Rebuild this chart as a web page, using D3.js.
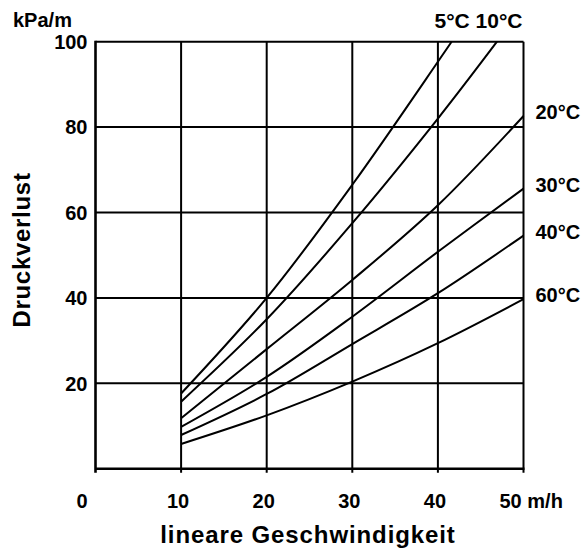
<!DOCTYPE html>
<html>
<head>
<meta charset="utf-8">
<script src="https://cdn.jsdelivr.net/npm/d3@7"></script>
<style>
html,body{margin:0;padding:0;background:#fff;}
svg{display:block;}
text{font-family:"Liberation Sans",Arial,sans-serif;font-weight:bold;fill:#000;}
</style>
</head>
<body>
<svg id="chart" width="588" height="549"></svg>
<script>
// ---- data ----
const xTicks = [0, 10, 20, 30, 40, 50];
const xTickLabels = ["0", "10", "20", "30", "40", "50 m/h"];
const yTicks = [20, 40, 60, 80, 100];
const yTickLabels = ["20", "40", "60", "80", "100"];
const seriesNames = ["5°C", "10°C", "20°C", "30°C", "40°C", "60°C"];
const velocity5  = [10, 20, 30, 40, 41.6];
const loss5      = [17.6, 40.0, 66.5, 95.3, 100];
const velocity10 = [10, 20, 30, 40, 46.9];
const loss10     = [15.7, 35.0, 57.5, 82.0, 100];
const velocity   = [10, 20, 30, 40, 50];
const loss20     = [11.8, 28.0, 44.2, 61.7, 82.6];
const loss30     = [9.8, 21.5, 35.6, 50.8, 65.6];
const loss40     = [7.9, 17.5, 29.2, 41.1, 54.6];
const loss60     = [5.8, 12.5, 20.4, 29.4, 39.7];
const yLabel = "Druckverlust";
const xLabel = "lineare Geschwindigkeit";
const yUnit = "kPa/m";

const series = [
  {name: seriesNames[0], xs: velocity5, ys: loss5},
  {name: seriesNames[1], xs: velocity10, ys: loss10},
  {name: seriesNames[2], xs: velocity, ys: loss20},
  {name: seriesNames[3], xs: velocity, ys: loss30},
  {name: seriesNames[4], xs: velocity, ys: loss40},
  {name: seriesNames[5], xs: velocity, ys: loss60}
];

const svg = d3.select("#chart");
const x = d3.scaleLinear().domain([0, 50]).range([95.5, 523.5]);
const y = d3.scaleLinear().domain([0, 100]).range([468.7, 41.7]);

const g = svg.append("g");

// vertical grid lines
g.selectAll(".vg").data(xTicks.slice(1)).enter().append("line")
  .attr("x1", d => x(d)).attr("x2", d => x(d))
  .attr("y1", y(100)).attr("y2", y(0) + 4)
  .attr("stroke", "#000").attr("stroke-width", 2);
// horizontal grid lines
g.selectAll(".hg").data(yTicks).enter().append("line")
  .attr("x1", x(0)).attr("x2", x(50))
  .attr("y1", d => y(d)).attr("y2", d => y(d))
  .attr("stroke", "#000").attr("stroke-width", 2);
// left axis
g.append("line").attr("x1", x(0)).attr("x2", x(0)).attr("y1", y(100) - 1).attr("y2", y(0) + 4)
  .attr("stroke", "#000").attr("stroke-width", 2.6);
// bottom axis
g.append("line").attr("x1", x(0)).attr("x2", x(50) + 1).attr("y1", y(0)).attr("y2", y(0))
  .attr("stroke", "#000").attr("stroke-width", 2.6);

// curves
const line = d3.line().x(d => x(d[0])).y(d => y(d[1])).curve(d3.curveCatmullRom.alpha(0.5));
series.forEach(s => {
  const pts = s.xs.map((v, i) => [v, s.ys[i]]);
  g.append("path").attr("d", line(pts)).attr("fill", "none")
    .attr("stroke", "#000").attr("stroke-width", 2);
});

// y tick labels
g.selectAll(".yl").data(yTicks).enter().append("text")
  .attr("x", x(0) - 8).attr("y", d => y(d)).attr("dy", "0.36em")
  .attr("text-anchor", "end").style("font-size", "20px")
  .text((d, i) => yTickLabels[i]);

// x tick labels
g.selectAll(".xl").data(xTicks).enter().append("text")
  .attr("x", (d, i) => i === 0 ? x(d) - 8 : (i === xTicks.length - 1 ? x(d) - 24 : x(d) - 3))
  .attr("y", y(0) + 32).attr("dy", "0.36em")
  .attr("text-anchor", (d, i) => i === 0 ? "end" : (i === xTicks.length - 1 ? "start" : "middle"))
  .style("font-size", "20px")
  .text((d, i) => xTickLabels[i]);

// axis titles
svg.append("text").attr("transform", `translate(30,250) rotate(-90)`)
  .attr("text-anchor", "middle").style("font-size", "24px").style("letter-spacing", "0.7px")
  .text(yLabel);
svg.append("text").attr("x", 308).attr("y", 543)
  .attr("text-anchor", "middle").style("font-size", "24px").style("letter-spacing", "0.9px")
  .text(xLabel);
svg.append("text").attr("x", 13).attr("y", 27)
  .attr("text-anchor", "start").style("font-size", "20px").text(yUnit);

// series labels: 5°C and 10°C together at top, others at right
svg.append("text").attr("x", x(50) - 1).attr("y", 28)
  .attr("text-anchor", "end").style("font-size", "21px")
  .text(seriesNames[0] + " " + seriesNames[1]);
series.slice(2).forEach(s => {
  const last = s.ys[s.ys.length - 1];
  svg.append("text").attr("x", x(50) + 12).attr("y", y(last) - 4).attr("dy", "0.36em")
    .style("font-size", "20px").text(s.name);
});
</script>
</body>
</html>
